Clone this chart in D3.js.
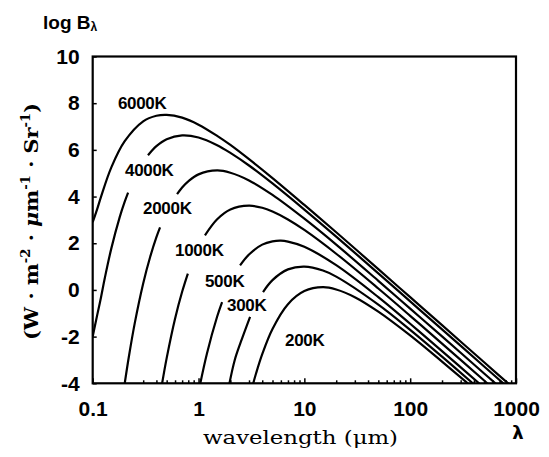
<!DOCTYPE html>
<html lang="en">
<head>
<meta charset="UTF-8">
<title>Planck curves</title>
<script src="https://d3js.org/d3.v7.min.js"></script>
<style>
  body { margin: 0; background: #fff; }
</style>
</head>
<body>
<svg id="chart" width="549" height="457"></svg>
<script>
// [wavelength (um), log B], null = gap where the label sits
var b6000 = [[0.1, 2.9], [0.11, 3.45], [0.12, 4.0], [0.15, 5.25], [0.2, 6.36], [0.3, 7.22], [0.4, 7.46],
             [0.5, 7.5], [0.7, 7.38], [1, 7.08], [1.5, 6.6], [2, 6.21], [3, 5.6], [5, 4.79], [10, 3.64],
             [20, 2.47], [50, 0.89], [100, -0.31], [200, -1.51], [500, -3.1], [1000, -4.3]];
var b4000 = [[0.1, -2.0], [0.11, -1.1], [0.12, -0.3], [0.13, 0.5], [0.15, 1.78], [0.18, 3.12], [0.2, 3.76],
             [0.216, 4.17], [0.27, null], [0.333, 5.77], [0.4, 6.16], [0.5, 6.46], [0.7, 6.62], [1, 6.53],
             [1.5, 6.2], [2, 5.87], [3, 5.33], [5, 4.56], [10, 3.44], [20, 2.28], [50, 0.71], [100, -0.49],
             [200, -1.69], [500, -3.28], [1000, -4.48]];
var b2000 = [[0.2, -4.05], [0.22, -2.84], [0.25, -1.41], [0.3, 0.28], [0.35, 1.43], [0.4, 2.26], [0.433, 2.68],
             [0.52, null], [0.627, 4.1], [0.7, 4.39], [0.8, 4.65], [1, 4.95], [1.5, 5.12], [2, 5.02], [3, 4.69],
             [5, 4.07], [10, 3.05], [20, 1.94], [50, 0.39], [100, -0.8], [200, -1.99], [500, -3.58], [700, -4.16]];
var b1000 = [[0.453, -4.0], [0.5, -2.92], [0.6, -1.23], [0.7, -0.08], [0.793, 0.7], [0.95, null], [1.15, 2.34],
             [1.5, 3.03], [2, 3.45], [3, 3.61], [4, 3.52], [5, 3.36], [7, 3.02], [10, 2.57], [20, 1.55],
             [50, 0.06], [100, -1.11], [200, -2.3], [500, -3.88], [550, -4.05]];
var b500 = [[1.04, -4.0], [1.2, -2.73], [1.5, -1.14], [1.67, -0.52], [2, null], [2.47, 1.05], [3, 1.52],
            [4, 1.94], [5, 2.08], [6, 2.11], [7, 2.07], [10, 1.85], [20, 1.06], [50, -0.31], [100, -1.45],
            [200, -2.62], [450, -4.01]];
var b300 = [[1.96, -4.0], [2.2, -3.0], [2.5, -2.25], [3.07, -1.15], [3.5, null], [4.07, -0.09], [5, 0.42],
            [7, 0.88], [10, 1.0], [15, 0.83], [20, 0.57], [50, -0.63], [100, -1.71], [200, -2.86], [400, -4.04]];
var b200 = [[3.29, -4.0], [3.5, -3.57], [4, -2.75], [5, -1.67], [7, -0.61], [10, -0.05], [15, 0.12],
            [20, 0.02], [30, -0.31], [50, -0.93], [100, -1.95], [200, -3.07], [350, -4.0]];

var curves = [b6000, b4000, b2000, b1000, b500, b300, b200];
var tempNames = ["6000K", "4000K", "2000K", "1000K", "500K", "300K", "200K"];
var labelWave = [0.173, 0.202, 0.299, 0.6, 1.15, 1.86, 6.57];
var labelLogB = [8.0, 5.14, 3.51, 1.71, 0.38, -0.65, -2.15];

var xTicks = [0.1, 1, 10, 100, 1000];
var yTicks = [10, 8, 6, 4, 2, 0, -2, -4];

var svg = d3.select("#chart");

var x = d3.scaleLog().domain([0.1, 1000]).range([92.7, 516]);
var y = d3.scaleLinear().domain([-4, 10]).range([383.3, 56.5]);

var minorTicks = [];
xTicks.slice(0, 4).forEach(function(dec) {
    for (var k = 2; k <= 9; k++) minorTicks.push(dec * k);
});

svg.append("clipPath").attr("id", "plotclip")
    .append("rect")
    .attr("x", x(0.1)).attr("y", y(10))
    .attr("width", x(1000) - x(0.1)).attr("height", y(-4) - y(10));

// axes
svg.append("g")
    .attr("transform", "translate(0," + y(-4) + ")")
    .call(d3.axisBottom(x).tickValues(xTicks).tickSize(-5).tickPadding(18)
        .tickFormat(function(d) { return String(d); }));

svg.append("g")
    .attr("transform", "translate(0," + y(-4) + ")")
    .call(d3.axisBottom(x).tickValues(minorTicks).tickSize(-3).tickFormat(""));

svg.append("g")
    .attr("transform", "translate(" + x(0.1) + ",0)")
    .call(d3.axisLeft(y).tickValues(yTicks).tickSize(-4).tickPadding(13)
        .tickFormat(function(d) { return String(d); }));

svg.selectAll(".tick line").attr("stroke", "#000").attr("stroke-width", 1.5);
svg.selectAll(".domain").remove();
svg.selectAll(".tick text")
    .attr("font-family", "Liberation Sans, Arial, sans-serif")
    .attr("font-weight", "bold")
    .attr("font-size", 21)
    .attr("fill", "#000");

// frame
svg.append("rect")
    .attr("x", x(0.1)).attr("y", y(10))
    .attr("width", x(1000) - x(0.1)).attr("height", y(-4) - y(10))
    .attr("fill", "none").attr("stroke", "#000").attr("stroke-width", 2.2);

// curves
var line = d3.line()
    .defined(function(d) { return d[1] != null; })
    .x(function(d) { return x(d[0]); })
    .y(function(d) { return y(d[1]); })
    .curve(d3.curveCatmullRom.alpha(0.5));

svg.append("g").attr("clip-path", "url(#plotclip)")
    .selectAll("path.curve")
    .data(curves)
    .enter()
    .append("path")
    .attr("class", "curve")
    .attr("d", line)
    .attr("fill", "none")
    .attr("stroke", "#000")
    .attr("stroke-width", 2.2);

// temperature labels
svg.selectAll("text.temp")
    .data(tempNames)
    .enter()
    .append("text")
    .attr("class", "temp")
    .attr("x", function(d, i) { return x(labelWave[i]); })
    .attr("y", function(d, i) { return y(labelLogB[i]); })
    .attr("dy", "0.36em")
    .attr("font-family", "Liberation Sans, Arial, sans-serif")
    .attr("font-weight", "bold")
    .attr("font-size", 17)
    .attr("letter-spacing", -0.3)
    .text(function(d) { return d; });

// titles
var yt = svg.append("text")
    .attr("x", 43).attr("y", 29)
    .attr("font-family", "Liberation Sans, Arial, sans-serif")
    .attr("font-weight", "bold")
    .attr("font-size", 19);
yt.append("tspan").text("log B");
yt.append("tspan").attr("font-size", 12).attr("dy", 2).text("λ");

svg.append("text")
    .attr("x", 203).attr("y", 444)
    .attr("font-family", "DejaVu Serif, serif")
    .attr("font-size", 19)
    .attr("textLength", 195)
    .attr("lengthAdjust", "spacingAndGlyphs")
    .text("wavelength (μm)");

svg.append("text")
    .attr("x", 518).attr("y", 439)
    .attr("text-anchor", "middle")
    .attr("font-family", "DejaVu Sans, sans-serif")
    .attr("font-weight", "bold")
    .attr("font-size", 18)
    .text("λ");

var unit = svg.append("text")
    .attr("transform", "translate(38,340) rotate(-90)")
    .attr("font-family", "DejaVu Serif, serif")
    .attr("font-weight", "bold")
    .attr("font-size", 19)
    .attr("textLength", 237)
    .attr("lengthAdjust", "spacingAndGlyphs");
unit.append("tspan").text("(W · m");
unit.append("tspan").attr("font-size", 12).attr("dy", -8).text("-2");
unit.append("tspan").attr("dy", 8).text(" · ");
unit.append("tspan").attr("font-style", "italic").text("μ");
unit.append("tspan").text("m");
unit.append("tspan").attr("font-size", 12).attr("dy", -8).text("-1");
unit.append("tspan").attr("dy", 8).text(" · Sr");
unit.append("tspan").attr("font-size", 12).attr("dy", -8).text("-1");
unit.append("tspan").attr("dy", 8).text(")");
</script>
</body>
</html>
